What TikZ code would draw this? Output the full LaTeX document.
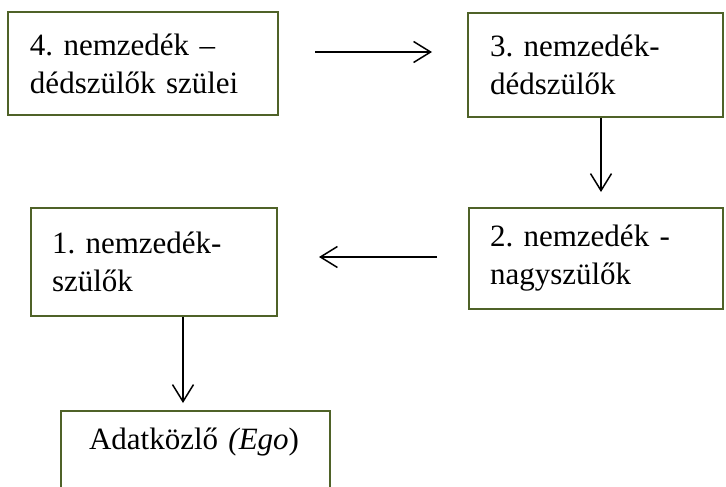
\documentclass[tikz,border=0pt]{standalone}
\usepackage{fontspec}
\setmainfont{Liberation Serif}
\usetikzlibrary{arrows.meta, positioning}

\definecolor{boxgreen}{RGB}{79,98,40}

\begin{document}
\frenchspacing
\begin{tikzpicture}[
    x=1pt, y=-1pt,
    genbox/.style={rectangle, draw=boxgreen, line width=2pt, fill=white,
                   align=left, font=\fontsize{31}{38}\selectfont},
    arrow/.style={-{Straight Barb[length=17pt,width=21pt,line width=1.5pt]}, line width=1.5pt}
]
\useasboundingbox (0,0) rectangle (726,487);
\clip (0,0) rectangle (726,487);

% ==================== GENERATIONS ====================
\node[genbox, minimum width=270pt, minimum height=103pt, inner xsep=22pt, text width=226pt]
    (gen4) at (143, 63.5) {4. nemzedék --\\dédszülők szülei};
\node[genbox, minimum width=255pt, minimum height=104pt, inner xsep=22pt, text width=211pt]
    (gen3) at (595.5, 65) {3. nemzedék-\\dédszülők};
\node[genbox, minimum width=254pt, minimum height=101pt, inner xsep=21pt, text width=212pt]
    (gen2) at (596, 258.5) {2. nemzedék -\\nagyszülők};
\node[genbox, minimum width=246pt, minimum height=108pt, inner xsep=21pt, text width=204pt]
    (gen1) at (154, 262) {1. nemzedék-\\szülők};

% ==================== EGO ====================
\node[genbox, anchor=north west, inner xsep=28pt, text width=213pt, inner ysep=16pt,
      text height=22pt, text depth=80pt]
    (ego) at (60, 410) {Adatközlő \textit{(Ego})};

% ==================== ARROWS ====================
\draw[arrow, shorten <=36pt, shorten >=35pt] ([yshift=11.5pt]gen4.east) -- ([yshift=13pt]gen3.west);
\draw[arrow, shorten >=15pt] ([xshift=5.5pt]gen3.south) -- ([xshift=5pt]gen2.north);
\draw[arrow, shorten <=31pt, shorten >=41pt] ([yshift=1.5pt]gen2.west) -- ([yshift=5pt]gen1.east);
\draw[arrow, shorten >=7pt] ([xshift=29pt]gen1.south) -- ([xshift=29pt]gen1.south |- ego.north);

\end{tikzpicture}
\end{document}
